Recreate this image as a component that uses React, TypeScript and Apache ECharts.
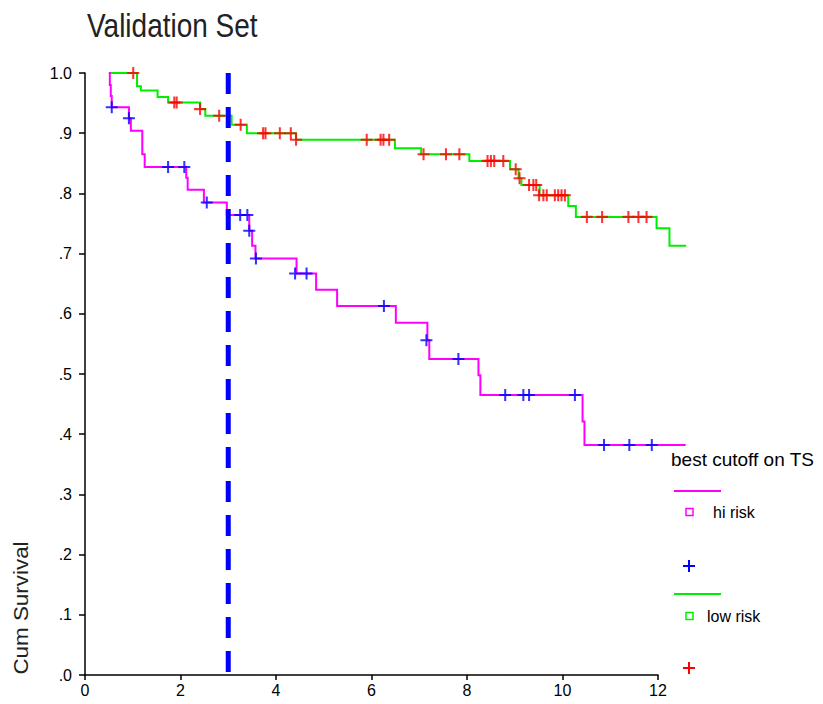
import React, { useEffect, useRef } from "react";
import * as echarts from "echarts";

// Kaplan-Meier step points: survival value holds from each time onward
const hiRiskTimes = [0.5, 0.52, 0.54, 0.56, 0.92, 0.96, 1.2, 1.25, 2.12, 2.15, 2.49, 2.97, 3.44, 3.5, 3.57, 4.43, 4.84, 5.28, 6.51, 7.17, 7.21, 8.24, 8.28, 10.42, 10.46, 12.58];
const hiRiskSurv = [1.0, 0.98, 0.962, 0.943, 0.925, 0.904, 0.865, 0.844, 0.826, 0.806, 0.785, 0.764, 0.738, 0.713, 0.692, 0.667, 0.64, 0.613, 0.585, 0.556, 0.525, 0.498, 0.465, 0.421, 0.382, 0.382];
const hiCensorTimes = [0.56, 0.92, 1.74, 2.08, 2.55, 3.25, 3.4, 3.44, 3.58, 4.4, 4.64, 6.26, 7.15, 7.82, 8.8, 9.18, 9.3, 10.26, 10.87, 11.4, 11.87];
const hiCensorSurv = [0.943, 0.925, 0.844, 0.844, 0.785, 0.764, 0.764, 0.738, 0.692, 0.667, 0.667, 0.613, 0.556, 0.525, 0.465, 0.465, 0.465, 0.465, 0.382, 0.382, 0.382];

const lowRiskTimes = [0.5, 1.09, 1.17, 1.52, 1.74, 2.41, 2.52, 3.07, 3.39, 4.42, 6.49, 7.04, 8.05, 8.9, 9.08, 9.14, 9.52, 10.12, 10.28, 11.97, 12.24, 12.59];
const lowRiskSurv = [1.0, 0.978, 0.971, 0.96, 0.951, 0.94, 0.929, 0.914, 0.9, 0.889, 0.875, 0.865, 0.854, 0.84, 0.825, 0.814, 0.797, 0.779, 0.761, 0.742, 0.713, 0.713];
const lowCensorTimes = [1.01, 1.87, 1.92, 2.41, 2.81, 3.26, 3.73, 3.78, 4.08, 4.31, 4.42, 5.9, 6.19, 6.25, 6.37, 7.09, 7.56, 7.84, 8.43, 8.5, 8.57, 8.76, 9.02, 9.1, 9.3, 9.39, 9.45, 9.51, 9.6, 9.67, 9.84, 9.91, 9.98, 10.05, 10.51, 10.83, 11.38, 11.59, 11.76];
const lowCensorSurv = [1.0, 0.951, 0.951, 0.94, 0.929, 0.914, 0.9, 0.9, 0.9, 0.9, 0.889, 0.889, 0.889, 0.889, 0.889, 0.865, 0.865, 0.865, 0.854, 0.854, 0.854, 0.854, 0.84, 0.825, 0.814, 0.814, 0.814, 0.797, 0.797, 0.797, 0.797, 0.797, 0.797, 0.797, 0.761, 0.761, 0.761, 0.761, 0.761];

const cutoffTime = [3, 3];
const cutoffSurv = [1, 0];

const yTickLabels = [".0", ".1", ".2", ".3", ".4", ".5", ".6", ".7", ".8", ".9", "1.0"];

const FONT = "'Liberation Sans', Arial, sans-serif";
const CROSS = "path://M4.15,0H5.85V4.15H10V5.85H5.85V10H4.15V5.85H0V4.15H4.15Z";

const zip = (a: number[], b: number[]) => a.map((v, i) => [v, b[i]]);

// custom step-curve series (not clipped at axis max, like the reference)
const stepSeries = (times: number[], surv: number[], color: string) => ({
  type: "custom",
  data: zip(times, surv),
  clip: false,
  z: 2,
  renderItem: (params: any, api: any) => {
    if (params.dataIndex !== 0) return null;
    const pts: number[][] = [];
    for (let i = 0; i < times.length; i++) {
      pts.push(api.coord([times[i], surv[i]]));
      if (i + 1 < times.length) pts.push(api.coord([times[i + 1], surv[i]]));
    }
    return {
      type: "polyline",
      shape: { points: pts },
      style: { stroke: color, lineWidth: 2, fill: "none" },
    };
  },
});

export default function App() {
  const ref = useRef<HTMLDivElement>(null);
  useEffect(() => {
    if (!ref.current) return;
    const chart = echarts.init(ref.current, null, { renderer: "svg" });
    const cross = (x: number, y: number, color: string) => ({
      type: "group",
      children: [
        { type: "line", shape: { x1: x - 6, y1: y, x2: x + 6, y2: y }, style: { stroke: color, lineWidth: 2 } },
        { type: "line", shape: { x1: x, y1: y - 6, x2: x, y2: y + 6 }, style: { stroke: color, lineWidth: 2 } },
      ],
    });
    chart.setOption({
      animation: false,
      backgroundColor: "#ffffff",
      textStyle: { fontFamily: FONT },
      grid: { left: 85, top: 73, right: 165, bottom: 29, containLabel: false },
      xAxis: {
        type: "value",
        min: 0,
        max: 12,
        interval: 2,
        splitLine: { show: false },
        axisLine: { lineStyle: { color: "#000", width: 1.5 } },
        axisTick: { show: true, length: 5, lineStyle: { color: "#000", width: 1.5 } },
        axisLabel: { fontSize: 16, color: "#000", margin: 7, fontFamily: FONT },
      },
      yAxis: {
        type: "value",
        min: 0,
        max: 1,
        interval: 0.1,
        splitLine: { show: false },
        axisLine: { show: true, lineStyle: { color: "#000", width: 1.5 } },
        axisTick: { show: true, length: 6, lineStyle: { color: "#000", width: 1.5 } },
        axisLabel: {
          fontSize: 16,
          color: "#000",
          margin: 13,
          fontFamily: FONT,
          formatter: (v: number) => yTickLabels[Math.round(v * 10)],
        },
      },
      series: [
        stepSeries(lowRiskTimes, lowRiskSurv, "#00ee00"),
        {
          type: "scatter",
          data: zip(lowCensorTimes, lowCensorSurv),
          symbol: CROSS,
          symbolSize: 12,
          itemStyle: { color: "#ff0000" },
          clip: false,
          z: 3,
        },
        stepSeries(hiRiskTimes, hiRiskSurv, "#ff00ff"),
        {
          type: "scatter",
          data: zip(hiCensorTimes, hiCensorSurv),
          symbol: CROSS,
          symbolSize: 12,
          itemStyle: { color: "#0000ff" },
          clip: false,
          z: 3,
        },
        {
          type: "line",
          data: zip(cutoffTime, cutoffSurv),
          symbol: "none",
          clip: false,
          lineStyle: { color: "#0000ff", width: 5, type: [21, 13] },
          z: 5,
        },
      ],
      graphic: [
        {
          type: "text",
          x: 87,
          y: 25,
          scaleY: 1.18,
          style: { text: "Validation Set", fontSize: 28, fontFamily: FONT, fill: "#222", verticalAlign: "middle", align: "left" },
        },
        {
          type: "text",
          x: 21,
          y: 608,
          rotation: Math.PI / 2,
          scaleX: 1.12,
          style: { text: "Cum Survival", fontSize: 20, fontFamily: FONT, fill: "#222", align: "center", verticalAlign: "middle" },
        },
        {
          type: "text",
          x: 671,
          y: 459,
          style: { text: "best cutoff on TS", fontSize: 19, fontFamily: FONT, fill: "#000", align: "left", verticalAlign: "middle" },
        },
        { type: "line", shape: { x1: 674, y1: 491, x2: 721, y2: 491 }, style: { stroke: "#ff00ff", lineWidth: 2 } },
        { type: "rect", shape: { x: 686, y: 508.5, width: 7, height: 7 }, style: { stroke: "#ff00ff", fill: "none", lineWidth: 1.5 } },
        {
          type: "text",
          x: 713,
          y: 512,
          style: { text: "hi risk", fontSize: 16, fontFamily: FONT, fill: "#000", align: "left", verticalAlign: "middle" },
        },
        cross(689, 566, "#0000ff"),
        { type: "line", shape: { x1: 674, y1: 594, x2: 721, y2: 594 }, style: { stroke: "#00ee00", lineWidth: 2 } },
        { type: "rect", shape: { x: 686, y: 612.5, width: 7, height: 7 }, style: { stroke: "#00ee00", fill: "none", lineWidth: 1.5 } },
        {
          type: "text",
          x: 707,
          y: 616,
          style: { text: "low risk", fontSize: 16, fontFamily: FONT, fill: "#000", align: "left", verticalAlign: "middle" },
        },
        cross(689, 668, "#ff0000"),
      ],
    });
    return () => chart.dispose();
  }, []);
  return <div ref={ref} style={{ position: "absolute", left: 0, top: 0, width: 823, height: 704 }} />;
}
